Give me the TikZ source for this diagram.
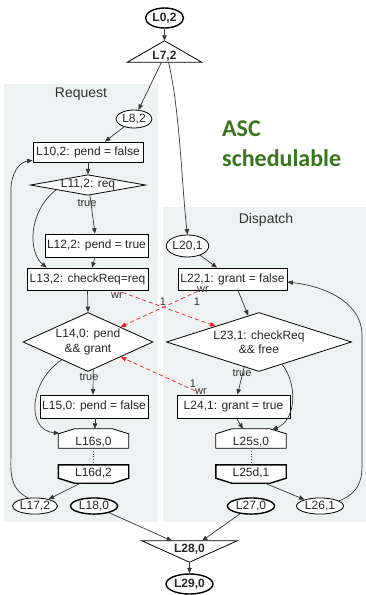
\documentclass[tikz,border=0pt]{standalone}
\usepackage{fontspec}
\setmainfont{Liberation Sans}
\newfontfamily\headfont{Carlito}
\usetikzlibrary{arrows.meta,shapes.geometric,calc}
\definecolor{panelbg}{RGB}{238,242,243}
\definecolor{ascgreen}{RGB}{56,118,29}
\definecolor{edgegray}{RGB}{55,55,55}
\definecolor{wrred}{RGB}{238,30,30}
\pgfdeclarelayer{panels}
\pgfdeclarelayer{shapes}
\pgfsetlayers{panels,shapes,main}

\begin{document}
\begin{tikzpicture}[x=1pt,y=-1pt,
  every node/.style={inner sep=0pt, text=black!85},
  lbl/.style={font=\fontsize{12}{13}\selectfont, text height=8.8pt, text depth=2.6pt},
  box/.style={lbl, draw, fill=white, rectangle, line width=0.8pt},
  oval/.style={lbl, draw, fill=white, ellipse, line width=0.8pt},
  ovalthick/.style={oval, line width=1.4pt},
  ovalbold/.style={oval, line width=1.4pt, font=\fontsize{12}{13}\selectfont\bfseries},
  cond/.style={draw, fill=white, diamond, line width=0.8pt, align=center,
    font=\fontsize{12}{14.5}\selectfont},
  housebox/.style={rectangle, minimum width=70pt, minimum height=19pt,
    font=\fontsize{12}{13}\selectfont, text height=16pt, text depth=3pt},
  invhousebox/.style={rectangle, minimum width=70pt, minimum height=18pt,
    font=\fontsize{12}{13}\selectfont, text height=11.5pt, text depth=6.5pt},
  shapeline/.style={draw, fill=white, line width=0.8pt},
  shapethick/.style={draw, fill=white, line width=1.4pt},
  edge/.style={draw=edgegray, line width=0.7pt, -{Triangle[length=5.5pt,width=4.5pt]}},
  wredge/.style={draw=wrred, line width=0.7pt, dash pattern=on 4pt off 3pt,
    -{Triangle[length=5.5pt,width=4.5pt]}},
  dots/.style={draw=edgegray, line width=0.7pt, dotted},
  elabel/.style={font=\fontsize{11}{12}\selectfont, text=black!80},
  paneltitle/.style={font=\fontsize{14}{16}\selectfont, text=black!80},
]
\useasboundingbox (0,0) rectangle (366,595);

% background and the two process panels
\begin{pgfonlayer}{panels}
  \fill[white] (0,0) rectangle (366,595);
  \fill[panelbg] (4,84) rectangle (158,522);
  \fill[panelbg] (163,207) rectangle (366,522);
\end{pgfonlayer}
\node[paneltitle] (reqT) at (81,94) {Request};
\node[paneltitle] (dispT) at (266,220) {Dispatch};
\node[font=\headfont\bfseries\fontsize{24}{30}\selectfont, text=ascgreen,
  align=left, anchor=north west] (asc) at (222,121) {ASC\\schedulable};

% nodes
\node[ovalbold, minimum width=38pt, minimum height=20pt] (L0) at (164.5,18) {L0,2};
\node[rectangle, minimum width=74pt, minimum height=21pt, text height=17pt,
  text depth=1pt, font=\fontsize{12}{13}\selectfont\bfseries] (L7) at (164.5,51.5) {L7,2};
\node[oval, minimum width=36pt, minimum height=18pt] (L8) at (134,119) {L8,2};
\node[box, minimum width=110pt, minimum height=20pt] (L10) at (88,152) {L10,2: pend = false};
\node[cond, aspect=5.6, minimum width=112pt, minimum height=20pt] (L11) at (88,185) {L11,2: req};
\node[box, minimum width=103pt, minimum height=23pt] (L12) at (96.5,245.5) {L12,2: pend = true};
\node[box, minimum width=121pt, minimum height=22pt] (L13) at (87.5,279) {L13,2: checkReq=req};
\node[cond, aspect=2.2, minimum width=130pt, minimum height=59pt] (L14) at (88,342) {L14,0: pend\\\&\& grant};
\node[box, minimum width=108pt, minimum height=23pt] (L15) at (94,406.5) {L15,0: pend = false};
\node[housebox] (L16s) at (93.5,438.5) {L16s,0};
\node[invhousebox] (L16d) at (93.5,474) {L16d,2};
\node[oval, minimum width=45pt, minimum height=16pt] (L17) at (35,506) {L17,2};
\node[ovalthick, minimum width=47pt, minimum height=16pt] (L18) at (94,506) {L18,0};

\node[oval, minimum width=39pt, minimum height=22pt] (L20) at (187.5,246) {L20,1};
\node[box, minimum width=109pt, minimum height=22pt] (L22) at (232.5,279) {L22,1: grant = false};
\node[cond, aspect=3.14, minimum width=185pt, minimum height=59pt] (L23) at (259,342) {L23,1: checkReq\\\&\& free};
\node[box, minimum width=113pt, minimum height=23pt] (L24) at (233.5,406.5) {L24,1: grant = true};
\node[housebox] (L25s) at (251,438.5) {L25s,0};
\node[invhousebox] (L25d) at (251,474) {L25d,1};
\node[oval, minimum width=47pt, minimum height=16pt] (L26) at (320,506) {L26,1};
\node[ovalthick, minimum width=47pt, minimum height=16pt] (L27) at (251,506) {L27,0};

\node[rectangle, minimum width=95pt, minimum height=21pt, text height=10pt,
  text depth=9pt, font=\fontsize{12}{13}\selectfont\bfseries] (L28) at (189.5,551.5) {L28,0};
\node[ovalbold, minimum width=47pt, minimum height=20pt] (L29) at (189.5,584) {L29,0};

% outlines of the triangle and house shaped nodes
\begin{pgfonlayer}{shapes}
  \path[shapeline] (L7.south west) -- (L7.north) -- (L7.south east) -- cycle;
  \path[shapeline] (L28.north west) -- (L28.north east) -- (L28.south) -- cycle;
  \foreach \n in {L16s,L25s}{
    \path[shapeline] (\n.south west) -- ($(\n.north west)+(0,5)$)
      -- ($(\n.north west)+(16,0)$) -- ($(\n.north east)+(-16,0)$)
      -- ($(\n.north east)+(0,5)$) -- (\n.south east) -- cycle;
  }
  \foreach \n in {L16d,L25d}{
    \path[shapethick] (\n.north west) -- (\n.north east)
      -- ($(\n.south east)+(0,-5)$) -- ($(\n.south east)+(-16,0)$)
      -- ($(\n.south west)+(16,0)$) -- ($(\n.south west)+(0,-5)$) -- cycle;
  }
\end{pgfonlayer}

% control flow
\draw[edge] (L0) -- (L7.north);
\draw[edge] ($(L7.south)+(-3,0)$) -- (L8);
\draw[edge] ($(L7.south)+(4,0)$) .. controls (180,110) and (182,190) .. (L20.north);
\draw[edge] (L8) -- ($(L10.north)+(17,0)$);
\draw[edge] (L10.south) -- (L11.north);
\draw[edge] ($(L11.south)+(2,0)$) -- ($(L12.north)+(-1.5,0)$);
\node[elabel] (t1) at (87,203) {true};
\draw[edge] ($(L11.south)!0.55!(L11.west)$) .. controls (28,212) and (28,252) .. ($(L13.north west)+(20,0)$);
\draw[edge] ($(L12.south)+(-1.5,0)$) -- ($(L13.north)+(4.5,0)$);
\draw[edge] (L13.south) -- (L14.north);
\draw[edge] ($(L14.south)!0.08!(L14.east)$) -- ($(L15.north)+(-1,0)$);
\node[elabel] (t2) at (89,377) {true};
\draw[edge] ($(L14.west)!0.6!(L14.south)$) .. controls (30,380) and (25,430) .. ($(L16s.north west)+(1,4.5)$);
\draw[edge] ($(L15.south)+(1,0)$) -- ($(L16s.north)+(1.5,0)$);
\draw[dots] (L16s.south) -- (L16d.north);
\draw[edge] ($(L16d.south)+(-13,0)$) -- (L17);
\draw[edge] (L17.130) .. controls (8,488) and (11,470) .. (11,450) -- (11,190)
  .. controls (11,172) and (20,162) .. ($(L10.south west)+(0,-2)$);
\draw[edge] (L18) -- ($(L28.north)+(-17.5,0)$);
\draw[edge] (L27) -- ($(L28.north)+(12.5,0)$);
\draw[edge] (L28.south) -- (L29);

\draw[edge] (L20) -- ($(L22.north)+(-15.5,0)$);
\draw[edge] ($(L22.south)+(5.5,0)$) -- (L23);
\draw[edge] ($(L23.south)!0.16!(L23.west)$) -- ($(L24.north)+(4,0)$);
\node[elabel] (t3) at (242,373) {true};
\draw[edge] ($(L23.south)!0.25!(L23.east)$) .. controls (298,385) and (296,420) .. ($(L25s.north east)+(-14,1)$);
\draw[edge] ($(L24.south)+(3,0)$) -- ($(L25s.north)+(-8,0)$);
\draw[dots] (L25s.south) -- (L25d.north);
\draw[edge] ($(L25d.south)+(14,0)$) -- (L26);
\draw[edge] (L26.15) .. controls (358,493) and (362,482) .. (362,465) -- (362,335)
  .. controls (362,305) and (330,287) .. ($(L22.east)+(0,3)$);

% write/read dependencies
\draw[wredge] ($(L13.south)+(35,2)$) -- (L23);
\draw[wredge] ($(L22.south)+(-35,1)$) -- (L14);
\draw[wredge] ($(L24.north west)+(18,-4)$) -- (L14);
\node[elabel] (w1) at (117,296) {wr};
\node[elabel] (n1) at (163,302) {1};
\node[elabel] (w2) at (203,290) {wr};
\node[elabel] (n2) at (197,302) {1};
\node[elabel] (n3) at (193,384) {1};
\node[elabel] (w3) at (201,392) {wr};
\end{tikzpicture}
\end{document}
